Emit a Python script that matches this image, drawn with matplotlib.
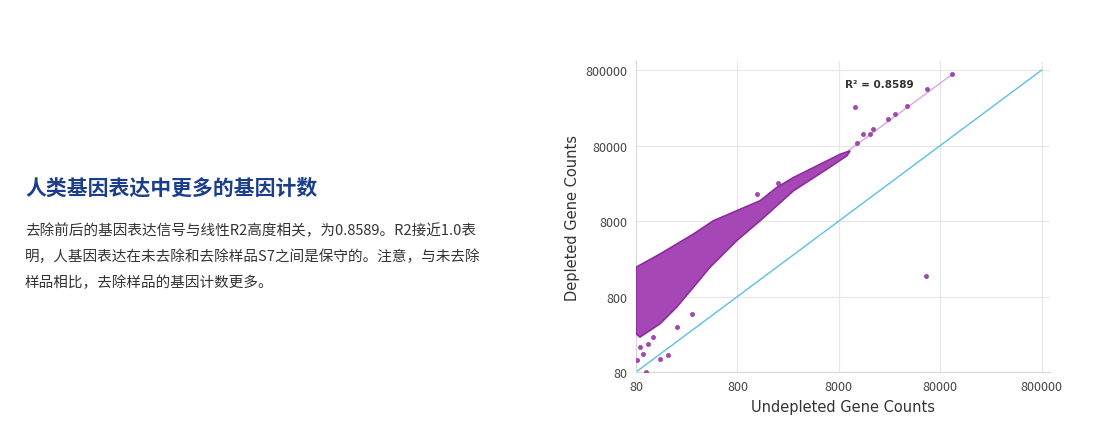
import numpy as np
import matplotlib
matplotlib.use("Agg")
import matplotlib.pyplot as plt

plt.rcParams['font.family'] = ['Noto Sans CJK SC', 'DejaVu Sans']

# ---------- Data (log10 of counts) ----------

# outline of the dense point cloud
cloud_x = [1.903, 2.140, 2.469, 2.666, 2.896, 3.127, 3.291, 3.456, 3.719, 3.916, 4.015,
           3.982, 3.785, 3.456, 3.127, 2.896, 2.633, 2.469, 2.304, 2.140, 1.942, 1.903]
cloud_y = [3.291, 3.467, 3.731, 3.907, 4.040, 4.172, 4.348, 4.480, 4.656, 4.788, 4.833,
           4.767, 4.590, 4.304, 3.907, 3.643, 3.291, 3.026, 2.762, 2.542, 2.366, 2.410]

# scattered genes outside the cloud
pts_x = [1.942, 1.975, 2.025, 1.910, 2.002, 2.140, 2.222, 2.074, 2.304, 2.452,
         4.064, 4.771, 4.574, 4.393, 4.459, 4.245, 4.146, 4.212, 4.081, 5.021,
         4.762, 3.308, 3.094]
pts_y = [2.233, 2.145, 2.277, 2.057, 1.903, 2.079, 2.123, 2.366, 2.498, 2.674,
         5.414, 5.647, 5.427, 5.251, 5.317, 5.119, 5.053, 5.053, 4.943, 5.846,
         3.172, 4.414, 4.260]

# trend line ends and identity line
trend_x = [3.949, 5.021]
trend_y = [4.788, 5.846]
ident = [80, 800000]

title = "人类基因表达中更多的基因计数"
para = ["去除前后的基因表达信号与线性R2高度相关，为0.8589。R2接近1.0表",
        "明，人基因表达在未去除和去除样品S7之间是保守的。注意，与未去除",
        "样品相比，去除样品的基因计数更多。"]
ticks = [80, 800, 8000, 80000, 800000]


def main():
    fig = plt.figure(figsize=(11, 4.35), dpi=100)
    fig.text(25 / 1100, 1 - 188 / 435, title, fontsize=15, fontweight="bold",
             color="#1b3e8c", va="center")
    for i, line in enumerate(para):
        fig.text(25 / 1100, 1 - (231 + 26 * i) / 435, line, fontsize=10.5,
                 color="#333333", va="center")

    ax = fig.add_axes([636 / 1100, 0.1425, 0.376, 0.7145])
    ax.set_xscale("log")
    ax.set_yscale("log")
    ax.fill(10 ** np.array(cloud_x), 10 ** np.array(cloud_y), facecolor="#a548b5",
            edgecolor="#8d2c9c", linewidth=1.2, zorder=3)
    ax.scatter(10 ** np.array(pts_x), 10 ** np.array(pts_y), s=9, color="#a548b5",
               edgecolor="#8d2c9c", linewidth=0.4, zorder=4)
    ax.plot(10 ** np.array(trend_x), 10 ** np.array(trend_y), color="#d9a6df",
            linewidth=1.0, zorder=2)
    ax.plot(ident, ident, color="#5bbfe6", linewidth=1.0, zorder=2)
    ax.text(20000, 480000, "R² = 0.8589", fontsize=7.5, fontweight="bold",
            color="#333333", ha="center", family="DejaVu Sans")

    ax.set_xlim(80, 960000)
    ax.set_ylim(80, 1050000)
    ax.set_xticks(ticks)
    ax.set_yticks(ticks)
    ax.set_xticklabels([str(t) for t in ticks])
    ax.set_yticklabels([str(t) for t in ticks])
    ax.minorticks_off()
    ax.tick_params(length=0, labelsize=9, colors="#444444", pad=6)
    ax.grid(True, color="#e6e6e6", linewidth=0.8)
    ax.set_axisbelow(True)
    for s in ["top", "right"]:
        ax.spines[s].set_visible(False)
    for s in ["left", "bottom"]:
        ax.spines[s].set_color("#d8d8d8")
    ax.set_xlabel("Undepleted Gene Counts", fontsize=10.5, color="#333333",
                  family="DejaVu Sans")
    ax.set_ylabel("Depleted Gene Counts", fontsize=10.5, color="#333333",
                  family="DejaVu Sans")

    fig.savefig("out.png", dpi=100, facecolor="white")


if __name__ == "__main__":
    main()
